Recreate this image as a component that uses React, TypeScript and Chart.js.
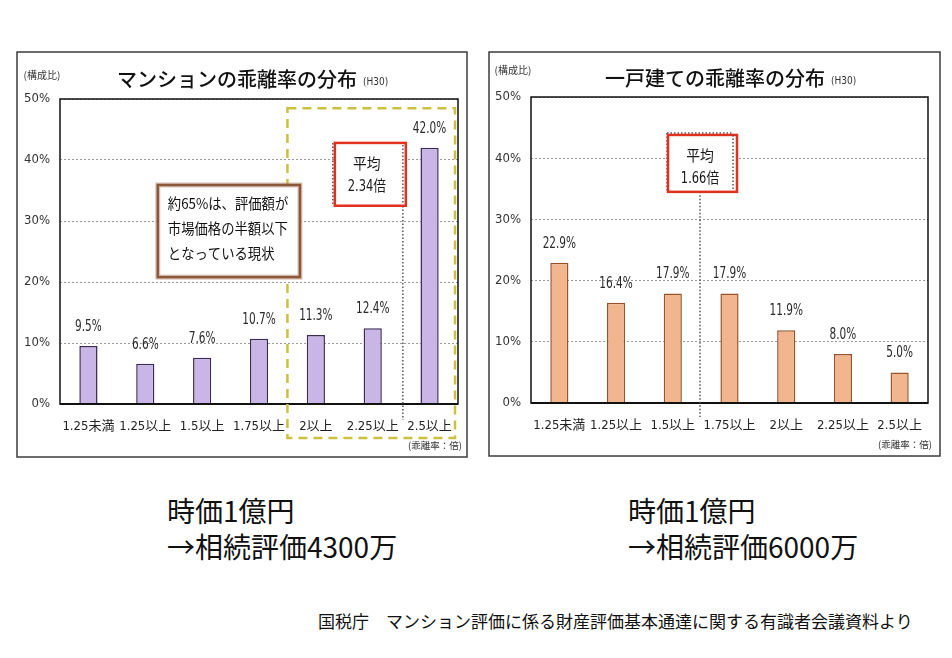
import React, { useEffect, useRef } from "react";
import { Chart, registerables } from "chart.js";

Chart.register(...registerables);

// ---------- data ----------
const categories = ["1.25未満", "1.25以上", "1.5以上", "1.75以上", "2以上", "2.25以上", "2.5以上"];
const mansionShares = [9.5, 6.6, 7.6, 10.7, 11.3, 12.4, 42.0];
const houseShares = [22.9, 16.4, 17.9, 17.9, 11.9, 8.0, 5.0];
const yMax = 50;
const yStep = 10;
const mansionTitle = "マンションの乖離率の分布";
const houseTitle = "一戸建ての乖離率の分布";
const yearNote = "(H30)";
const yAxisNote = "(構成比)";
const xAxisNote = "(乖離率：倍)";
const mansionMeanLines = ["平均", "2.34倍"];
const houseMeanLines = ["平均", "1.66倍"];
const mansionCallout = ["約65%は、評価額が", "市場価格の半額以下", "となっている現状"];
const mansionSummary = ["時価1億円", "→相続評価4300万"];
const houseSummary = ["時価1億円", "→相続評価6000万"];
const sourceNote = "国税庁　マンション評価に係る財産評価基本通達に関する有識者会議資料より";

// ---------- styles ----------
const NARROW = "'DejaVu Sans Condensed', 'Noto Sans CJK JP', sans-serif";
const JP = "'Noto Sans CJK JP', sans-serif";

type Notes = (chart: any) => void;

function squeezeText(ctx: CanvasRenderingContext2D, text: string, x: number, y: number, sx: number, align: CanvasTextAlign) {
  ctx.save();
  ctx.translate(x, y);
  ctx.scale(sx, 1);
  ctx.textAlign = align;
  ctx.fillText(text, 0, 0);
  ctx.restore();
}

function dotted(ctx: CanvasRenderingContext2D, x1: number, y1: number, x2: number, y2: number) {
  ctx.save();
  ctx.strokeStyle = "#555";
  ctx.lineWidth = 1.5;
  ctx.setLineDash([1.5, 2]);
  ctx.beginPath();
  ctx.moveTo(x1, y1);
  ctx.lineTo(x2, y2);
  ctx.stroke();
  ctx.restore();
}

function meanBox(ctx: CanvasRenderingContext2D, l: number, t: number, r: number, b: number, cx: number, lines: string[]) {
  ctx.save();
  ctx.fillStyle = "#fff";
  ctx.fillRect(l, t, r - l, b - t);
  ctx.strokeStyle = "#e0301e";
  ctx.lineWidth = 2.5;
  ctx.setLineDash([]);
  ctx.strokeRect(l, t, r - l, b - t);
  ctx.fillStyle = "#1a1a1a";
  ctx.textBaseline = "middle";
  ctx.font = `15px ${JP}`;
  squeezeText(ctx, lines[0], cx, t + 20, 0.92, "center");
  ctx.font = `15px ${NARROW}`;
  squeezeText(ctx, lines[1], cx, t + 44, 0.85, "center");
  ctx.restore();
}

const mansionNotes: Notes = (chart) => {
  const { ctx, chartArea: a, scales } = chart;
  const x = scales.x, y = scales.y;
  // dashed highlight region
  const hl = x.getPixelForValue(3.5), hr = a.right - 3;
  const ht = y.getPixelForValue(48.5), hb = a.bottom + 34;
  ctx.save();
  ctx.strokeStyle = "#cbc13e";
  ctx.lineWidth = 2.5;
  ctx.setLineDash([9, 6]);
  ctx.strokeRect(hl, ht, hr - hl, hb - ht);
  ctx.restore();
  // callout box
  const bl = x.getPixelForValue(1.22), br = x.getPixelForValue(3.72);
  const bt = y.getPixelForValue(35.9), bb = y.getPixelForValue(20.8);
  ctx.save();
  ctx.fillStyle = "#fff";
  ctx.fillRect(bl, bt, br - bl, bb - bt);
  ctx.strokeStyle = "rgba(170,120,90,0.45)";
  ctx.lineWidth = 5;
  ctx.strokeRect(bl, bt, br - bl, bb - bt);
  ctx.strokeStyle = "#8a583a";
  ctx.lineWidth = 2.5;
  ctx.strokeRect(bl, bt, br - bl, bb - bt);
  ctx.fillStyle = "#111";
  ctx.font = `14.5px ${JP}`;
  ctx.textBaseline = "middle";
  mansionCallout.forEach((s, i) => squeezeText(ctx, s, bl + 10, bt + 18 + i * 25, 0.92, "left"));
  ctx.restore();
  // mean line + box
  const mx = x.getPixelForValue(5.53);
  const mt = y.getPixelForValue(42.8), mb = y.getPixelForValue(32.5);
  dotted(ctx, mx, mt, mx, a.bottom + 16);
  dotted(ctx, mx - 70, mt, mx - 70, mb);
  meanBox(ctx, mx - 68, mt, mx + 3, mb, mx - 36, mansionMeanLines);
  dotted(ctx, mx, mt + 2, mx, mb - 2);
};

const houseNotes: Notes = (chart) => {
  const { ctx, chartArea: a, scales } = chart;
  const x = scales.x, y = scales.y;
  const mx = x.getPixelForValue(2.48);
  const mt = y.getPixelForValue(43.8), mb = y.getPixelForValue(34.5);
  dotted(ctx, mx - 33, mt - 2, mx + 33, mt - 2);
  dotted(ctx, mx - 33, mt - 2, mx - 33, mb);
  dotted(ctx, mx, mb, mx, a.bottom + 14);
  meanBox(ctx, mx - 32, mt, mx + 37, mb, mx, houseMeanLines);
  dotted(ctx, mx + 33, mt, mx + 33, mb - 2);
};

type Spec = {
  key: string;
  values: number[];
  title: string;
  titleOffset: number;
  titleY: number;
  yNoteX: number;
  yNoteY: number;
  fill: string;
  stroke: string;
  padTop: number;
  padRight: number;
  yAxisW: number;
  xAxisH: number;
  notes: Notes;
};

function makeDeco(spec: Spec) {
  return {
    id: "deco-" + spec.key,
    beforeDraw(chart: any) {
      const { ctx, width, height } = chart;
      ctx.save();
      ctx.fillStyle = "#fff";
      ctx.fillRect(0, 0, width, height);
      ctx.restore();
    },
    afterDatasetsDraw(chart: any) {
      const { ctx, chartArea: a, width, height } = chart;
      ctx.save();
      // plot frame
      ctx.setLineDash([]);
      ctx.strokeStyle = "#111";
      ctx.lineWidth = 1.5;
      ctx.strokeRect(a.left, a.top, a.right - a.left, a.bottom - a.top);
      ctx.lineWidth = 2.2;
      ctx.beginPath();
      ctx.moveTo(a.left, a.bottom);
      ctx.lineTo(a.right, a.bottom);
      ctx.stroke();
      // panel border
      ctx.strokeStyle = "#3c3c3c";
      ctx.lineWidth = 1.5;
      ctx.strokeRect(1, 1, width - 2, height - 2);
      // value labels
      const meta = chart.getDatasetMeta(0);
      ctx.fillStyle = "#2a2a2a";
      ctx.font = `15px ${NARROW}`;
      ctx.textBaseline = "middle";
      meta.data.forEach((bar: any, i: number) => {
        squeezeText(ctx, spec.values[i].toFixed(1) + "%", bar.x, bar.y - 19, 0.78, "center");
      });
      // title
      const tcx = (a.left + a.right) / 2 + spec.titleOffset;
      ctx.fillStyle = "#111";
      ctx.font = `500 20px ${JP}`;
      ctx.textAlign = "center";
      ctx.fillText(spec.title, tcx, spec.titleY);
      const tw = ctx.measureText(spec.title).width;
      ctx.font = `10px ${NARROW}`;
      ctx.textAlign = "left";
      ctx.fillStyle = "#333";
      ctx.fillText(yearNote, tcx + tw / 2 + 6, spec.titleY + 3);
      // axis notes
      ctx.font = `10px ${JP}`;
      ctx.textAlign = "center";
      ctx.fillText(yAxisNote, spec.yNoteX, spec.yNoteY);
      ctx.font = `9.5px ${JP}`;
      ctx.textAlign = "right";
      ctx.fillText(xAxisNote, a.right + 4, a.bottom + 41);
      ctx.restore();
      spec.notes(chart);
    },
  };
}

function ChartPanel({ spec, left, top, width, height }: { spec: Spec; left: number; top: number; width: number; height: number }) {
  const ref = useRef<HTMLCanvasElement | null>(null);
  useEffect(() => {
    if (!ref.current) return;
    const chart = new Chart(ref.current, {
      type: "bar",
      data: {
        labels: categories,
        datasets: [
          {
            data: spec.values,
            backgroundColor: spec.fill,
            borderColor: spec.stroke,
            borderWidth: 1.5,
            barPercentage: 0.32,
            categoryPercentage: 1,
          },
        ],
      },
      options: {
        responsive: false,
        animation: false,
        devicePixelRatio: 1,
        layout: { padding: { left: 0, top: spec.padTop, right: spec.padRight, bottom: 0 } },
        plugins: {
          legend: { display: false },
          title: { display: false },
          tooltip: { enabled: false },
        },
        scales: {
          x: {
            type: "category",
            grid: { display: false, drawTicks: false },
            border: { display: false },
            ticks: {
              font: { family: NARROW, size: 13 },
              color: "#222",
              padding: 15,
              maxRotation: 0,
              autoSkip: false,
            },
            afterFit: (s: any) => {
              s.height = spec.xAxisH;
            },
          },
          y: {
            min: 0,
            max: yMax,
            grid: { color: "#9a9a9a", lineWidth: 1, drawTicks: false },
            border: { display: false, dash: [2, 2] },
            ticks: {
              stepSize: yStep,
              callback: (v: any) => v + "%",
              font: { family: NARROW, size: 13 },
              color: "#333",
              padding: 10,
            },
            afterFit: (s: any) => {
              s.width = spec.yAxisW;
            },
          },
        },
      },
      plugins: [makeDeco(spec)],
    } as any);
    return () => chart.destroy();
  }, [spec]);
  return (
    <canvas
      ref={ref}
      width={width}
      height={height}
      style={{ position: "absolute", left, top, width, height, display: "block" }}
    />
  );
}

const mansionSpec: Spec = {
  key: "mansion",
  values: mansionShares,
  title: mansionTitle,
  titleOffset: -22,
  titleY: 28,
  yNoteX: 26,
  yNoteY: 24,
  fill: "#cab6e6",
  stroke: "#3d2b57",
  padTop: 48,
  padRight: 10,
  yAxisW: 44,
  xAxisH: 54,
  notes: mansionNotes,
};

const houseSpec: Spec = {
  key: "house",
  values: houseShares,
  title: houseTitle,
  titleOffset: -14.5,
  titleY: 27,
  yNoteX: 25,
  yNoteY: 19,
  fill: "#f1b68e",
  stroke: "#96532d",
  padTop: 46,
  padRight: 13,
  yAxisW: 43,
  xAxisH: 54,
  notes: houseNotes,
};

const bigText: React.CSSProperties = {
  position: "absolute",
  fontFamily: JP,
  fontSize: 28,
  lineHeight: "36px",
  color: "#111",
  whiteSpace: "nowrap",
};

export default function App() {
  return (
    <div
      style={{
        position: "absolute",
        left: 0,
        top: 0,
        width: 952,
        height: 658,
        background: "#fff",
        overflow: "hidden",
      }}
    >
      <ChartPanel spec={mansionSpec} left={16} top={51} width={452} height={407} />
      <ChartPanel spec={houseSpec} left={488} top={51} width={453} height={406} />
      <div style={{ ...bigText, left: 167, top: 492 }}>{mansionSummary[0]}</div>
      <div style={{ ...bigText, left: 167, top: 528 }}>{mansionSummary[1]}</div>
      <div style={{ ...bigText, left: 628, top: 492 }}>{houseSummary[0]}</div>
      <div style={{ ...bigText, left: 628, top: 528 }}>{houseSummary[1]}</div>
      <div
        style={{
          position: "absolute",
          left: 318,
          top: 609,
          fontFamily: JP,
          fontSize: 17,
          lineHeight: "24px",
          color: "#111",
          whiteSpace: "nowrap",
        }}
      >
        {sourceNote}
      </div>
    </div>
  );
}
